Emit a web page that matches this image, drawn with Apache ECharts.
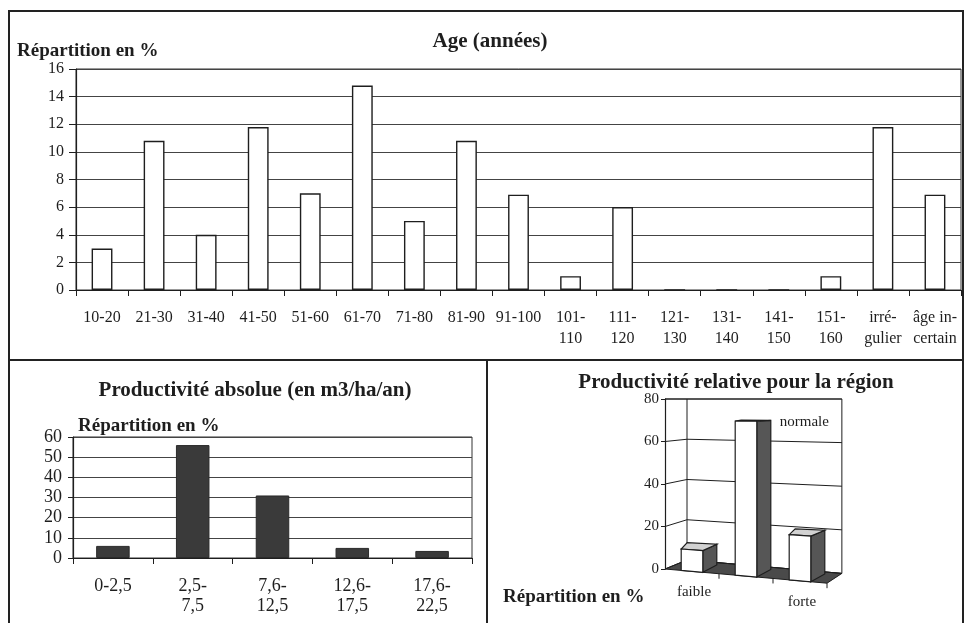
<!DOCTYPE html>
<html><head><meta charset="utf-8">
<script src="https://cdn.jsdelivr.net/npm/echarts@6.0.0/dist/echarts.min.js"></script>
<style>html,body{margin:0;padding:0;background:#fff}#c{width:965px;height:623px}</style>
</head><body><div id="c"></div>
<script>
// ---------- DATA ----------
const ageCategories = ['10-20','21-30','31-40','41-50','51-60','61-70','71-80','81-90','91-100',
  '101-\n110','111-\n120','121-\n130','131-\n140','141-\n150','151-\n160','irré-\ngulier','âge in-\ncertain'];
const ageValues = [3, 10.8, 4, 11.8, 7, 14.8, 5, 10.8, 6.9, 1, 6, 0, 0, 0, 1, 11.8, 6.9];
const ageAxis = { min: 0, max: 16, interval: 2 };

const absCategories = ['0-2,5', '2,5-\n7,5', '7,6-\n12,5', '12,6-\n17,5', '17,6-\n22,5'];
const absValues = [6, 56, 31, 5, 3.5];
const absAxis = { min: 0, max: 60, interval: 10 };

const relCategories = ['faible', 'normale', 'forte'];
const relValues = [10, 70, 20];
const relTicks = [0, 20, 40, 60, 80];
const relAxis = { min: 0, max: 80, interval: 20 };

const titleAge = 'Age (années)';
const titleAbs = 'Productivité absolue (en m3/ha/an)';
const titleRel = 'Productivité relative pour la région';
const yName = 'Répartition en %';

// ---------- STYLE ----------
const SERIF = '"Liberation Serif", "DejaVu Serif", serif';
const INK = '#1e1e1e';
const labelPlacement = ['below', 'topRight', 'below'];

const chart = echarts.init(document.getElementById('c'), null, { renderer: 'canvas' });

// pseudo-3D projection for the right-hand chart
function proj(api, cat, v, d, dxOverride) {
  const c0 = api.coord([0, 0]);
  const bw = api.size([1, 0])[0];
  const x0 = c0[0] - bw / 2;
  const xf = c0[0] + cat * bw;
  const yTop = api.coord([0, relAxis.max])[1];
  const yf = api.coord([0, v])[1];
  const rel = xf - x0;
  const dx = dxOverride != null ? dxOverride : d * 22 * (1 - 0.002 * rel);
  const k = (1 - 0.053 * d) * (1 + 0.000515 * rel);
  return [xf + dx, yTop + (yf - yTop) * k];
}
const n3 = relCategories.length;

function poly(points, fill, lw) {
  return { type: 'polygon', shape: { points: points }, style: { fill: fill, stroke: INK, lineWidth: lw || 1 } };
}
function line(pts, lw) {
  return { type: 'polyline', shape: { points: pts }, style: { fill: null, stroke: INK, lineWidth: lw || 1 } };
}

function renderWalls(params, api) {
  const L = -0.5, R = n3 - 0.5, top = relAxis.max;
  const children = [];
  children.push(poly([proj(api, L, 0, 1), proj(api, R, 0, 1), proj(api, R, top, 1), proj(api, L, top, 1)], '#fff'));
  children.push(line([proj(api, L, top, 0), proj(api, L, top, 1)]));
  children.push(poly([proj(api, L, 0, 0), proj(api, R, 0, 0), proj(api, R, 0, 1), proj(api, L, 0, 1)], '#4a4a4a'));
  for (let i = 0; i < n3; i++) {
    const p = proj(api, i + 0.5, 0, 0);
    children.push(line([p, [p[0], p[1] + 5]]));
  }
  return { type: 'group', children: children };
}
function renderGrid(params, api) {
  const v = api.value(1);
  return line([proj(api, -0.5, v, 0), proj(api, -0.5, v, 1), proj(api, n3 - 0.5, v, 1)]);
}
function renderBar(params, api) {
  const i = api.value(0), v = api.value(1), hw = 0.2, dB = 0.8;
  const FLt = proj(api, i - hw, v, 0), FRt = proj(api, i + hw, v, 0);
  const FRb = proj(api, i + hw, 0, 0), FLb = proj(api, i - hw, 0, 0);
  const BLt = proj(api, i - hw, v, dB, 6), BRt = proj(api, i + hw, v, dB, 14);
  const BRb = proj(api, i + hw, 0, dB, 14);
  const children = [
    poly([FRt, BRt, BRb, FRb], '#565656', 1.2),
    poly([FLt, FRt, BRt, BLt], '#d2d2d2', 1.2),
    poly([FLt, FRt, FRb, FLb], '#ffffff', 1.2)
  ];
  const place = labelPlacement[i];
  let tx, ty, align;
  if (place === 'below') {
    const b = proj(api, i, 0, 0);
    tx = b[0] + 2; ty = b[1] + 21; align = 'center';
  } else {
    tx = BRt[0] + 9; ty = BRt[1] + 2; align = 'left';
  }
  children.push({ type: 'text', style: { text: relCategories[i], x: tx, y: ty, textAlign: align, textVerticalAlign: 'middle',
    font: '15px ' + SERIF, fill: INK } });
  return { type: 'group', children: children };
}

const axisText = (size) => ({ fontFamily: SERIF, fontSize: size, color: INK });

const option = {
  animation: false,
  backgroundColor: '#fff',
  grid: [
    { left: 76, top: 69, width: 885, height: 221, show: true, borderColor: '#333', borderWidth: 1 },
    { left: 73, top: 437, width: 399, height: 121, show: true, borderColor: '#333', borderWidth: 1 },
    { left: 665, top: 399, width: 162, height: 170, show: false }
  ],
  xAxis: [
    { gridIndex: 0, type: 'category', data: ageCategories, boundaryGap: true,
      axisLine: { lineStyle: { color: INK, width: 1.2 } },
      axisTick: { show: true, interval: 0, length: 6, lineStyle: { color: INK } },
      axisLabel: Object.assign(axisText(16), { interval: 0, margin: 17, lineHeight: 21 }) },
    { gridIndex: 1, type: 'category', data: absCategories, boundaryGap: true,
      axisLine: { lineStyle: { color: INK, width: 1.2 } },
      axisTick: { show: true, interval: 0, length: 6, lineStyle: { color: INK } },
      axisLabel: Object.assign(axisText(18), { interval: 0, margin: 18, lineHeight: 20 }) },
    { gridIndex: 2, type: 'category', data: relCategories, boundaryGap: true, show: false }
  ],
  yAxis: [
    { gridIndex: 0, type: 'value', min: ageAxis.min, max: ageAxis.max, interval: ageAxis.interval,
      axisLine: { show: true, lineStyle: { color: INK, width: 1.2 } },
      axisTick: { show: true, length: 7, lineStyle: { color: INK } },
      splitLine: { show: true, lineStyle: { color: '#444', width: 1.2 } },
      axisLabel: Object.assign(axisText(16), { margin: 12 }) },
    { gridIndex: 1, type: 'value', min: absAxis.min, max: absAxis.max, interval: absAxis.interval,
      axisLine: { show: true, lineStyle: { color: INK, width: 1.2 } },
      axisTick: { show: true, length: 5, lineStyle: { color: INK } },
      splitLine: { show: true, lineStyle: { color: '#444', width: 1.2 } },
      axisLabel: Object.assign(axisText(18), { margin: 11 }) },
    { gridIndex: 2, type: 'value', min: relAxis.min, max: relAxis.max, interval: relAxis.interval,
      axisLine: { show: true, lineStyle: { color: INK, width: 1.2 } },
      axisTick: { show: true, length: 4, lineStyle: { color: INK } },
      splitLine: { show: false },
      axisLabel: Object.assign(axisText(15), { margin: 6 }) }
  ],
  series: [
    { type: 'bar', xAxisIndex: 0, yAxisIndex: 0, data: ageValues, barWidth: '40%',
      itemStyle: { color: '#fff', borderColor: INK, borderWidth: 1.4 } },
    { type: 'bar', xAxisIndex: 1, yAxisIndex: 1, data: absValues, barWidth: '42%',
      itemStyle: { color: '#3a3a3a', borderColor: '#2a2a2a', borderWidth: 1 } },
    { type: 'custom', xAxisIndex: 2, yAxisIndex: 2, data: [[0, 0]], renderItem: renderWalls, z: 1, clip: false, silent: true },
    { type: 'custom', xAxisIndex: 2, yAxisIndex: 2, data: relTicks.map(v => [0, v]), renderItem: renderGrid, z: 2, clip: false, silent: true },
    { type: 'custom', xAxisIndex: 2, yAxisIndex: 2, data: relValues.map((v, i) => [i, v]), renderItem: renderBar, z: 3, clip: false }
  ],
  graphic: [
    { type: 'rect', shape: { x: 9, y: 11, width: 954, height: 640 }, style: { fill: null, stroke: '#222', lineWidth: 2 }, silent: true },
    { type: 'line', shape: { x1: 9, y1: 360, x2: 963, y2: 360 }, style: { stroke: '#222', lineWidth: 2 }, silent: true },
    { type: 'line', shape: { x1: 487, y1: 360, x2: 487, y2: 623 }, style: { stroke: '#222', lineWidth: 2 }, silent: true },
    { type: 'text', style: { text: titleAge, x: 490, y: 42, textAlign: 'center', textVerticalAlign: 'middle', font: 'bold 21px ' + SERIF, fill: INK } },
    { type: 'text', style: { text: yName, x: 17, y: 51, textAlign: 'left', textVerticalAlign: 'middle', font: 'bold 19px ' + SERIF, fill: INK } },
    { type: 'text', style: { text: titleAbs, x: 255, y: 391, textAlign: 'center', textVerticalAlign: 'middle', font: 'bold 21px ' + SERIF, fill: INK } },
    { type: 'text', style: { text: yName, x: 78, y: 426, textAlign: 'left', textVerticalAlign: 'middle', font: 'bold 19px ' + SERIF, fill: INK } },
    { type: 'text', style: { text: titleRel, x: 736, y: 383, textAlign: 'center', textVerticalAlign: 'middle', font: 'bold 21px ' + SERIF, fill: INK } },
    { type: 'text', style: { text: yName, x: 503, y: 597, textAlign: 'left', textVerticalAlign: 'middle', font: 'bold 19px ' + SERIF, fill: INK } }
  ]
};
chart.setOption(option);
</script></body></html>
